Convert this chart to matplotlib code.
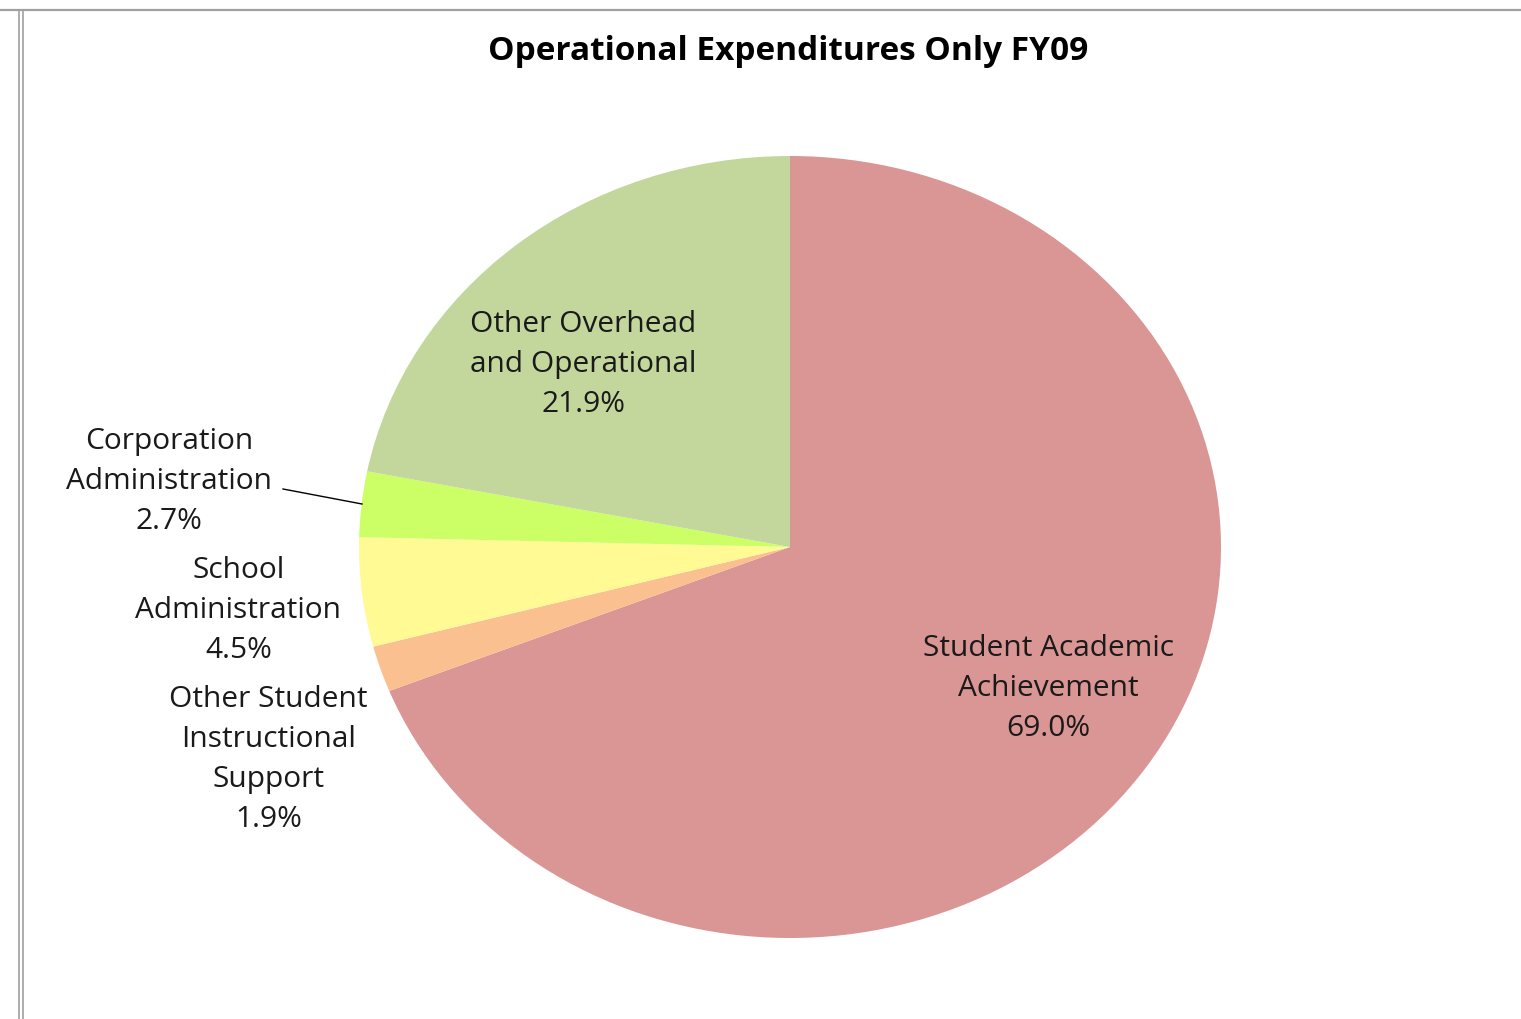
import matplotlib
matplotlib.use("Agg")
from matplotlib import pyplot as plt
from matplotlib.lines import Line2D

plt.rcParams["font.family"] = ["Open Sans", "DejaVu Sans"]

# slices, clockwise from 12 o'clock
categories = ["Student Academic\nAchievement",
              "Other Student\nInstructional\nSupport",
              "School\nAdministration",
              "Corporation\nAdministration",
              "Other Overhead\nand Operational"]
shares = [69.0, 1.9, 4.5, 2.7, 21.9]
colors = ["#D99694", "#FAC090", "#FFFA94", "#CCFF66", "#C3D69B"]

# label centres in axes units (pie radius = 1)
label_pos = [(0.60, -0.36), (-1.21, -0.54), (-1.28, -0.16), (-1.44, 0.17), (-0.48, 0.47)]

W, H = 1521, 1020
fig = plt.figure(figsize=(W / 100, H / 100), dpi=100)
fig.patch.set_facecolor("white")

# pie is drawn as a stretched ellipse, like the original
cx, cy, rx, ry = 790, 548, 431, 391
ax = fig.add_axes([(cx - rx) / W, (H - cy - ry) / H, 2 * rx / W, 2 * ry / H])
wedges, _ = ax.pie(shares, colors=colors, startangle=90, counterclock=False,
                   radius=1.0, wedgeprops=dict(linewidth=0))
ax.set_aspect("auto")
ax.set_xlim(-1, 1)
ax.set_ylim(-1, 1)
ax.axis("off")

for cat, val, (lx, ly) in zip(categories, shares, label_pos):
    ax.text(lx, ly, f"{cat}\n{val:.1f}%", ha="center", va="center",
            fontsize=21.5, color="#1a1a1a", linespacing=1.5, clip_on=False)

# leader line for Corporation Administration
ax.plot([(283 - cx) / rx, (362 - cx) / rx], [(cy - 490) / ry, (cy - 505) / ry],
        color="black", lw=1, clip_on=False)

fig.text(788 / W, 1 - 51 / H, "Operational Expenditures Only FY09",
         ha="center", va="center", fontsize=24, fontweight="bold")

# frame lines around the chart area
fig.add_artist(Line2D([0, 1], [1 - 11 / H, 1 - 11 / H], color="#A0A0A0", lw=1.6))
fig.add_artist(Line2D([19 / W, 19 / W], [0, 1 - 11 / H], color="#A0A0A0", lw=1.2))
fig.add_artist(Line2D([23 / W, 23 / W], [0, 1 - 11 / H], color="#A0A0A0", lw=1.2))

fig.savefig("out.png", dpi=100)
